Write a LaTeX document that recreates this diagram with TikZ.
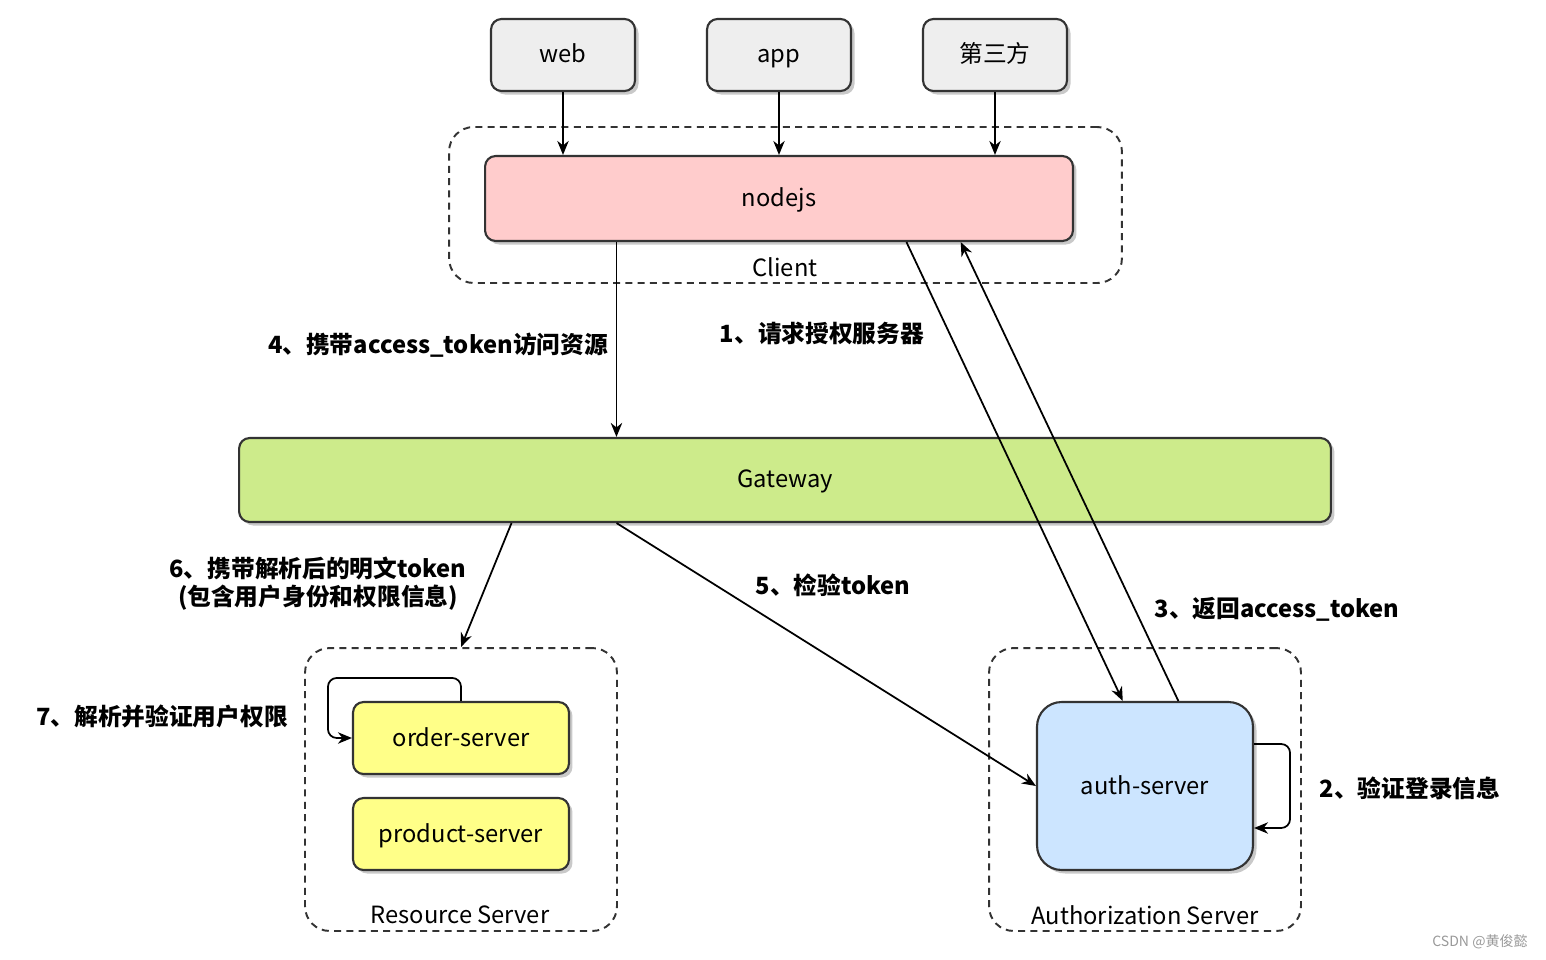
\documentclass[tikz,border=0pt]{standalone}
\usepackage{fontspec}
\setmainfont{Noto Sans CJK SC}
\usetikzlibrary{arrows.meta,positioning,calc,shadows}
\definecolor{ndgray}{RGB}{238,238,238}
\definecolor{ndred}{RGB}{255,204,204}
\definecolor{ndgreen}{RGB}{205,235,139}
\definecolor{ndyellow}{RGB}{255,255,136}
\definecolor{ndblue}{RGB}{204,229,255}
\definecolor{ndline}{RGB}{51,51,51}
\tikzset{
  sbox/.style={draw=ndline, line width=1.2pt, rounded corners=6pt, fill=#1,
               font=\fontsize{13.5}{16}\selectfont, text height=0.95em, text depth=0.04em,
               drop shadow={shadow xshift=2pt, shadow yshift=-2pt, opacity=0.3, fill=black!70}},
  grp/.style={draw=ndline, line width=1.1pt, dash pattern=on 4pt off 3pt,
              rounded corners=14pt, minimum width=#1},
  gtitle/.style={font=\fontsize{13.5}{16}\selectfont},
  lbl/.style={font=\fontsize{13.5}{16}\selectfont\bfseries, align=center},
  flow/.style={-{Stealth[length=8pt,width=6.5pt]}, line width=1pt, black},
}

\begin{document}
\begin{tikzpicture}[x=0.02cm, y=-0.02cm]
\useasboundingbox (0,0) rectangle (1546,960);

% --- dashed groups ---
\node[grp=13.46cm, minimum height=3.12cm] (clientgrp) at (785.5,205) {};
\node[grp=6.24cm, minimum height=5.66cm] (resgrp) at (461,789.5) {};
\node[grp=6.24cm, minimum height=5.66cm] (authgrp) at (1145,789.5) {};
\node[gtitle] (clienttitle) at (785,267) {Client};
\node[gtitle] (restitle) at (460,915) {Resource Server};
\node[gtitle] (authtitle) at (1145,915) {Authorization Server};

% --- callers ---
\node[sbox=ndgray, minimum width=2.88cm, minimum height=1.44cm] (web) at (563,55) {web};
\node[sbox=ndgray, minimum width=2.88cm, minimum height=1.44cm] (app) at (779,55) {app};
\node[sbox=ndgray, minimum width=2.88cm, minimum height=1.44cm] (third) at (995,55) {第三方};

% --- main boxes ---
\node[sbox=ndred, minimum width=11.76cm, minimum height=1.7cm] (nodejs) at (779,198.5) {nodejs};
\node[sbox=ndgreen, minimum width=21.84cm, minimum height=1.68cm] (gateway) at (785,480) {Gateway};
\node[sbox=ndyellow, minimum width=4.32cm, minimum height=1.44cm] (order) at (461,738) {order-server};
\node[sbox=ndyellow, minimum width=4.32cm, minimum height=1.44cm] (product) at (461,834) {product-server};
\node[sbox=ndblue, rounded corners=14pt, minimum width=4.32cm, minimum height=3.36cm] (auth) at (1145,786) {auth-server};

% --- callers to nodejs ---
\draw[flow] (web.south) -- (web.south |- nodejs.north);
\draw[flow] (app.south) -- (app.south |- nodejs.north);
\draw[flow] (third.south) -- (third.south |- nodejs.north);

% --- token flow ---
\coordinate (out4) at ($(nodejs.south west)!0.2245!(nodejs.south east)$);
\draw[flow] ($(nodejs.south west)!0.716!(nodejs.south east)$) -- ($(auth.north west)!0.398!(auth.north east)$);
\draw[flow] ($(auth.north west)!0.653!(auth.north east)$) -- ($(nodejs.south west)!0.808!(nodejs.south east)$);
\draw[flow, rounded corners=5pt] ([yshift=0.84cm]auth.east) -- ++(36,0) |- ([yshift=-0.84cm]auth.east);
\draw[flow] (out4) -- (out4 |- gateway.north);
\draw[flow] ($(gateway.south west)!0.346!(gateway.south east)$) -- (auth.west);
\draw[flow] ($(gateway.south west)!0.25!(gateway.south east)$) -- (resgrp.north);
\draw[flow, rounded corners=5pt] (order.north) -- ++(0,-23) -| ([xshift=-0.48cm]order.west) -- (order.west);

% --- step labels ---
\node[lbl] (l1) at (822,333) {1、请求授权服务器};
\node[lbl] (l2) at (1410,788) {2、验证登录信息};
\node[lbl] (l3) at (1277,609) {3、返回access\_token};
\node[lbl] (l4) at (438,345) {4、携带access\_token访问资源};
\node[lbl] (l5) at (833,585) {5、检验token};
\node[lbl, inner sep=0pt] (l6) at (318,584) {6、携带解析后的明文token\\(包含用户身份和权限信息)};
\node[lbl] (l7) at (162,716) {7、解析并验证用户权限};
\node[font=\fontsize{8}{9}\selectfont, text=black!40] (mark) at (1480,942) {CSDN @黄俊懿};

\end{tikzpicture}
\end{document}
